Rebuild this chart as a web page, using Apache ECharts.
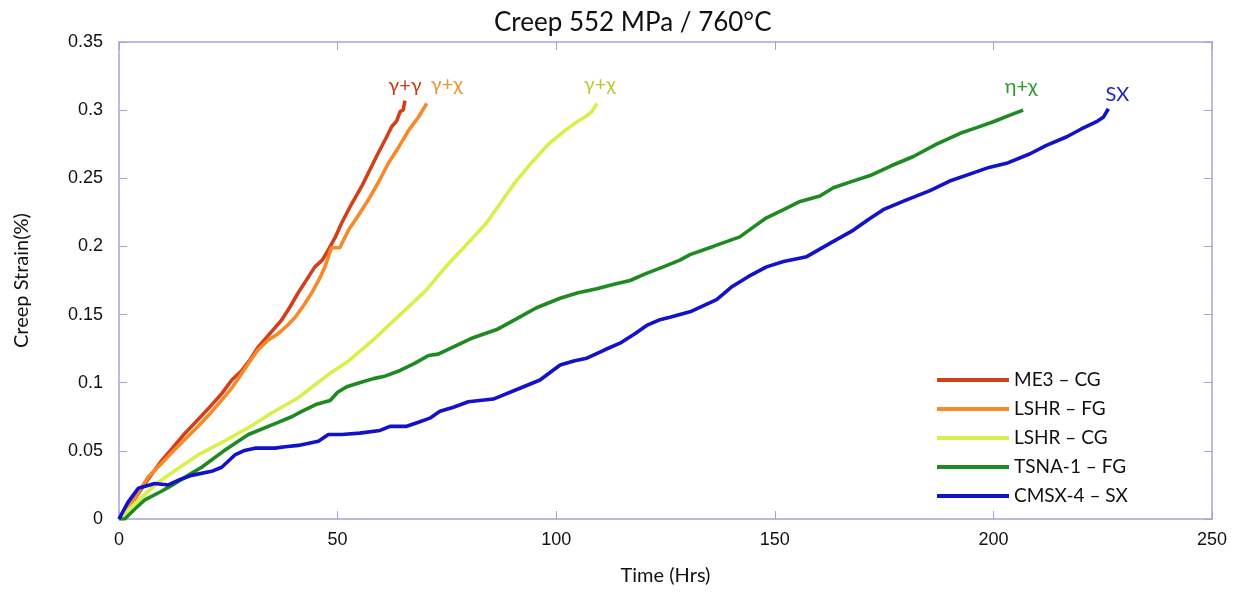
<!DOCTYPE html>
<html lang="en">
<head>
    <meta charset="UTF-8">
    <title>Creep 552 MPa / 760°C</title>
    <style>
        html, body {
            margin: 0;
            padding: 0;
            background: #fff;
        }

        #chart {
            width: 1239px;
            height: 592px;
        }
    </style>
</head>
<body>
<div id="chart"></div>
<script src="https://cdn.jsdelivr.net/npm/echarts@6/dist/echarts.min.js"></script>
<script>
    // [hours, strain]
    var me3CG = [[0, 0], [3, 0.012], [6.6, 0.029], [9.8, 0.043], [12.5, 0.053], [15.1, 0.063], [18.1, 0.073],
        [21, 0.083], [23.5, 0.092], [25.8, 0.102], [28.1, 0.109], [30, 0.117], [31.8, 0.126], [34.5, 0.136],
        [37.2, 0.146], [39, 0.155], [41, 0.166], [43, 0.176], [44.8, 0.185], [46.5, 0.19], [47.8, 0.197],
        [49.5, 0.207], [50.9, 0.217], [53, 0.23], [55.5, 0.244], [57.5, 0.257], [59.2, 0.268], [61, 0.279],
        [62.4, 0.288], [63.5, 0.292], [64.3, 0.299], [65, 0.3], [65.4, 0.307]];
    var lshrFG = [[0, 0], [3, 0.012], [6.7, 0.031], [9.8, 0.041], [14, 0.055], [18.1, 0.068], [21, 0.078],
        [24.2, 0.09], [26, 0.097], [28.1, 0.107], [30, 0.116], [31.8, 0.124], [34, 0.131], [36.4, 0.136],
        [38.5, 0.142], [40.3, 0.148], [42.3, 0.157], [44.1, 0.166], [45.8, 0.176], [47.1, 0.185], [48.6, 0.199],
        [50.5, 0.199], [52.5, 0.212], [55, 0.224], [57, 0.234], [59.5, 0.248], [61.6, 0.261], [64, 0.273],
        [66.2, 0.285], [68.5, 0.295], [70.4, 0.305]];
    var lshrCG = [[0, 0], [4.5, 0.014], [9, 0.027], [13.5, 0.037], [18.1, 0.047], [24, 0.057], [29.6, 0.067],
        [35, 0.078], [41, 0.089], [48.3, 0.107], [52.5, 0.116], [58, 0.131], [64, 0.149], [70, 0.167],
        [75, 0.186], [80, 0.203], [84, 0.217], [87.5, 0.233], [90.6, 0.247], [94.5, 0.262], [98.2, 0.275],
        [102, 0.285], [105, 0.292], [106.6, 0.295], [108.2, 0.299], [109.3, 0.305]];
    var tsnaFG = [[0, 0], [1.3, 0], [3.5, 0.007], [5.9, 0.014], [9.5, 0.02], [12.8, 0.026], [15.8, 0.032],
        [18.9, 0.038], [24, 0.05], [29.6, 0.062], [35.7, 0.07], [39.5, 0.075], [41.8, 0.079], [45, 0.084],
        [48.3, 0.087], [50, 0.093], [52.1, 0.097], [55, 0.1], [58.2, 0.103], [61, 0.105], [64.3, 0.109],
        [67.5, 0.114], [70.8, 0.12], [73, 0.121], [77, 0.127], [81, 0.133], [86.4, 0.139], [91, 0.147],
        [95.5, 0.155], [100.9, 0.162], [105, 0.166], [109.3, 0.169], [113, 0.172], [116.9, 0.175],
        [120.5, 0.18], [124.5, 0.185], [128.3, 0.19], [130.6, 0.194], [135.9, 0.2], [142, 0.207],
        [145, 0.214], [148.1, 0.221], [152, 0.227], [155.8, 0.233], [160.3, 0.237], [163.4, 0.243],
        [167, 0.247], [171.8, 0.252], [176.5, 0.259], [181.7, 0.266], [187, 0.275], [192.4, 0.283],
        [196, 0.287], [200, 0.2915], [203.5, 0.296], [206.8, 0.3]];
    var cmsxSX = [[0, 0], [2, 0.012], [4.4, 0.0225], [8.2, 0.026], [11.3, 0.025], [14, 0.029], [16.6, 0.032],
        [21.2, 0.035], [23.5, 0.038], [26.5, 0.047], [28.5, 0.05], [31.1, 0.052], [35.7, 0.052], [38, 0.053],
        [41, 0.054], [45.6, 0.057], [47.9, 0.062], [51, 0.062], [55.1, 0.063], [59.7, 0.065], [62, 0.068],
        [65.8, 0.068], [68.5, 0.071], [71.1, 0.074], [73.4, 0.079], [76.5, 0.082], [79.9, 0.086], [85.6, 0.088],
        [91, 0.095], [96.3, 0.102], [100.9, 0.113], [104, 0.116], [107, 0.118], [111, 0.124], [114.6, 0.129],
        [118, 0.136], [120.7, 0.142], [123.5, 0.146], [126, 0.148], [130.6, 0.152], [136.7, 0.161],
        [140, 0.17], [144, 0.178], [148.1, 0.185], [152, 0.189], [157.3, 0.1925], [163, 0.203], [168, 0.212],
        [171.5, 0.22], [174.8, 0.227], [180, 0.234], [185.5, 0.241], [190, 0.248], [195.4, 0.254],
        [199, 0.258], [203, 0.261], [208.4, 0.268], [212, 0.274], [216.8, 0.2805], [220, 0.286],
        [223.6, 0.2915], [225.2, 0.295], [226.3, 0.301]];

    var seriesNames = ['ME3 – CG', 'LSHR – FG', 'LSHR – CG', 'TSNA-1 – FG', 'CMSX-4 – SX'];
    var phaseLabels = ['γ+γ', 'γ+χ', 'γ+χ', 'η+χ', 'SX'];
    var xTicks = {min: 0, max: 250, interval: 50};
    var yTicks = {min: 0, max: 0.35, interval: 0.05};

    var lineColors = ['#d2401a', '#f68a2a', '#d9f04c', '#1f8a22', '#1212c8'];
    var labelColors = ['#cc3a12', '#ef9430', '#b2cf32', '#2a9a2a', '#2222cc'];
    var labelOffsets = [[0, 0], [20, -4], [3, -4], [-2, -9], [9, 1]];
    var axisColor = '#a6a2d8';
    var font = 'Lato';

    var make = function (i, data) {
        var last = data[data.length - 1];
        return {
            name: seriesNames[i],
            type: 'line',
            data: data,
            showSymbol: false,
            symbol: 'none',
            lineStyle: {color: lineColors[i], width: 3.6},
            itemStyle: {color: lineColors[i]},
            markPoint: {
                symbol: 'circle',
                symbolSize: 0,
                silent: true,
                data: [{coord: last}],
                label: {
                    show: true,
                    position: 'top',
                    distance: 5,
                    offset: labelOffsets[i],
                    formatter: phaseLabels[i],
                    color: labelColors[i],
                    fontSize: 20,
                    fontFamily: font
                }
            }
        };
    };

    var axisBase = function (extra) {
        var ax = {
            type: 'value',
            splitLine: {show: false},
            axisLine: {show: true, onZero: false, lineStyle: {color: axisColor, width: 1.5}},
            axisTick: {show: true, inside: true, length: 8, lineStyle: {color: axisColor, width: 1}}
        };
        for (var k in extra) {
            ax[k] = extra[k];
        }
        return ax;
    };

    var tickFont = {fontSize: 18, color: '#111', fontFamily: 'Liberation Sans'};
    var nameFont = {fontSize: 20, color: '#111', fontFamily: font};

    var option = {
        animation: false,
        title: {
            text: 'Creep 552 MPa / 760°C',
            left: 489,
            top: 5,
            textStyle: {fontSize: 26, fontWeight: 'normal', color: '#111', fontFamily: font}
        },
        grid: {left: 119, right: 27, top: 42, bottom: 73, containLabel: false},
        legend: {
            orient: 'vertical',
            left: 932,
            top: 365,
            itemWidth: 72,
            itemHeight: 4,
            itemGap: 9,
            icon: 'rect',
            data: seriesNames,
            textStyle: {fontSize: 19, color: '#111', fontFamily: font, lineHeight: 20}
        },
        xAxis: [
            axisBase({
                min: xTicks.min, max: xTicks.max, interval: xTicks.interval,
                position: 'bottom',
                name: 'Time (Hrs)',
                nameLocation: 'middle',
                nameGap: 47,
                nameTextStyle: nameFont,
                axisLabel: {margin: 12, fontSize: tickFont.fontSize, color: tickFont.color, fontFamily: tickFont.fontFamily}
            }),
            axisBase({
                min: xTicks.min, max: xTicks.max, interval: xTicks.interval,
                position: 'top',
                axisLabel: {show: false}
            })
        ],
        yAxis: [
            axisBase({
                min: yTicks.min, max: yTicks.max, interval: yTicks.interval,
                position: 'left',
                name: 'Creep Strain(%)',
                nameLocation: 'middle',
                nameGap: 87,
                nameTextStyle: nameFont,
                axisLabel: {margin: 16, fontSize: tickFont.fontSize, color: tickFont.color, fontFamily: tickFont.fontFamily}
            }),
            axisBase({
                min: yTicks.min, max: yTicks.max, interval: yTicks.interval,
                position: 'right',
                axisLabel: {show: false}
            })
        ],
        series: [
            make(0, me3CG),
            make(1, lshrFG),
            make(2, lshrCG),
            make(3, tsnaFG),
            make(4, cmsxSX)
        ]
    };

    var myChart = echarts.init(document.getElementById('chart'));
    myChart.setOption(option);
</script>
</body>
</html>
